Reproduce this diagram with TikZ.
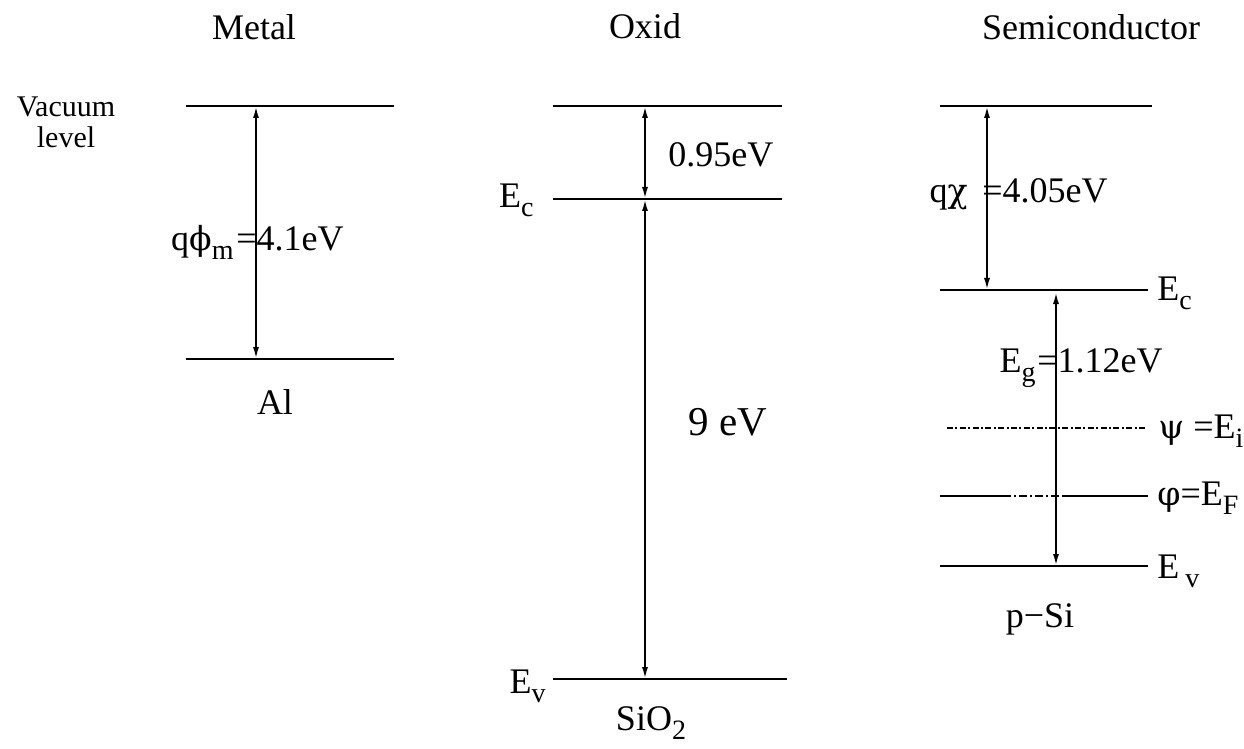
\documentclass[tikz,border=0pt]{standalone}
\usepackage{fontspec}
\setmainfont{Liberation Serif}
\newfontfamily\grk{DejaVu Serif}[Scale=0.92]
\usetikzlibrary{arrows.meta}
\newcommand{\lowsub}[1]{\raisebox{-4.5pt}{\fontsize{14}{14}\selectfont #1}}
\tikzset{
  level/.style={line width=1pt},
  gap/.style={line width=1pt,{Latex[length=6pt,width=3pt]}-{Latex[length=6pt,width=3pt]}},
  lbl/.style={inner sep=0pt,font=\fontsize{18}{21}\selectfont},
}

\begin{document}
\begin{tikzpicture}[x=0.5pt,y=-0.5pt]
\useasboundingbox (0,0) rectangle (1244,749);
% titles
\node[lbl,anchor=base] (metal) at (254,40) {Metal};
\node[lbl,anchor=base] (oxid) at (645,39) {Oxid};
\node[lbl,anchor=base] (semi) at (1091,40) {Semiconductor};
\node[inner sep=0pt,anchor=north,align=center,font=\fontsize{15}{15.5}\selectfont] (vac) at (66,96) {Vacuum\\level};

% metal
\draw[level] (186,106) coordinate (mvl) -- (394,106) coordinate (mvr);
\draw[level] (186,359) coordinate (mfl) -- (394,359) coordinate (mfr);
\coordinate (mtop) at (256,106);
\coordinate (mbot) at (256,359);
\draw[gap] (mtop) -- (mbot);
\node[lbl,anchor=base east] (phim) at (234,250) {q{\grk ϕ}\lowsub{m}};
\node[lbl,anchor=base west] (phival) at (236,250) {=4.1eV};
\node[lbl,anchor=base] (al) at (275,415) {Al};

% oxide
\draw[level] (553,106) coordinate (ovl) -- (782,106) coordinate (ovr);
\draw[level] (553,199) coordinate (ocl) -- (782,199) coordinate (ocr);
\draw[level] (553,679) coordinate (oel) -- (787,679) coordinate (oer);
\coordinate (otop) at (645,106);
\coordinate (oc) at (645,199);
\coordinate (ov) at (645,679);
\draw[gap] (otop) -- (oc);
\draw[gap] (oc) -- (ov);
\node[lbl,anchor=base west] (chiox) at (668,167) {0.95eV};
\node[inner sep=0pt,anchor=base west,font=\fontsize{20.5}{24}\selectfont] (gapox) at (688,435) {9 eV};
\node[lbl,anchor=base east] (ecox) at (534,208) {E\lowsub{c}};
\node[lbl,anchor=base east] (evox) at (546,693) {E\lowsub{v}};
\node[lbl,anchor=base] (sio) at (651,730) {SiO\lowsub{2}};

% semiconductor
\draw[level] (940,106) coordinate (svl) -- (1152,106) coordinate (svr);
\draw[level] (940,290) coordinate (scl) -- (1148,290) coordinate (scr);
\draw[level] (940,566) coordinate (sel) -- (1148,566) coordinate (ser);
\draw[line width=0.7pt,dash pattern=on 3pt off 1.2pt on 1pt off 1.2pt] (947,428) coordinate (sil) -- (1147,428) coordinate (sir);
\draw[level] (940,496) coordinate (sfl) -- (1003,496) coordinate (sfa);
\draw[line width=0.8pt,dash pattern=on 4pt off 1.5pt on 1pt off 1.5pt] (sfa) -- (1063,496) coordinate (sfb);
\draw[level] (sfb) -- (1148,496) coordinate (sfr);
\coordinate (stop) at (987,106);
\coordinate (sc) at (987,290);
\coordinate (gtop) at (1056,292);
\coordinate (gbot) at (1056,566);
\draw[gap] (stop) -- (sc);
\draw[gap] (gtop) -- (gbot);
\node[lbl,anchor=base east] (chi) at (968,203) {q{\grk χ}};
\node[lbl,anchor=base west] (chival) at (982,203) {=4.05eV};
\node[lbl,anchor=base east] (eg) at (1036,372) {E\lowsub{g}};
\node[lbl,anchor=base west] (egval) at (1037,372) {=1.12eV};
\node[lbl,anchor=base west] (ecsi) at (1157,300) {E\lowsub{c}};
\node[lbl,anchor=base west] (eisi) at (1158,438) {{\grk ψ} =E\lowsub{i}};
\node[lbl,anchor=base west] (efsi) at (1157,505) {{\grk φ}=E\lowsub{F}};
\node[lbl,anchor=base west] (evsi) at (1157,578) {E\,\lowsub{v}};
\node[lbl,anchor=base] (psi) at (1040,627) {p−Si};
\end{tikzpicture}
\end{document}
